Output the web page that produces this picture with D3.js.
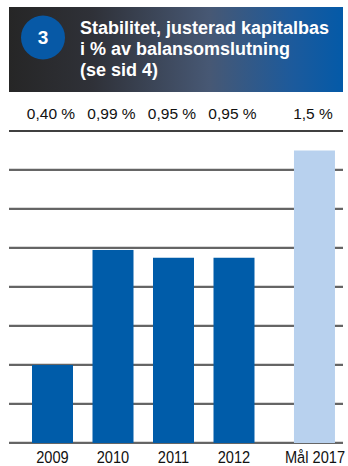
<!DOCTYPE html>
<html><head><meta charset="utf-8">
<script src="https://cdn.jsdelivr.net/npm/d3@7"></script>
<style>html,body{margin:0;padding:0;background:#fff;}svg{display:block;}</style>
</head><body>
<script>
const categories = ["2009", "2010", "2011", "2012", "Mål 2017"];
const values = [0.40, 0.99, 0.95, 0.95, 1.5];
const valueLabels = ["0,40 %", "0,99 %", "0,95 %", "0,95 %", "1,5 %"];
const isTarget = [false, false, false, false, true];
const gridTicks = [0, 0.2, 0.4, 0.6, 0.8, 1.0, 1.2, 1.4, 1.6];
const titleLines = ["Stabilitet, justerad kapitalbas", "i % av balansomslutning", "(se sid 4)"];
const chartNumber = "3";

const W = 348, H = 466;
const svg = d3.select("body").append("svg").attr("width", W).attr("height", H);
const font = "'Liberation Sans', Arial, sans-serif";

// header
const defs = svg.append("defs");
const grad = defs.append("linearGradient").attr("id", "hg").attr("x1", "0").attr("x2", "1").attr("y1", "0").attr("y2", "0");
grad.append("stop").attr("offset", "0").attr("stop-color", "#262626");
grad.append("stop").attr("offset", "0.25").attr("stop-color", "#2f3138");
grad.append("stop").attr("offset", "0.6").attr("stop-color", "#475874");
grad.append("stop").attr("offset", "0.85").attr("stop-color", "#1c5a9c");
grad.append("stop").attr("offset", "1").attr("stop-color", "#045aa8");
svg.append("rect").attr("x", 9).attr("y", 7).attr("width", 334).attr("height", 85).attr("fill", "url(#hg)");
svg.append("circle").attr("cx", 43).attr("cy", 37.5).attr("r", 22).attr("fill", "#0759a6");
svg.append("text").attr("x", 43).attr("y", 44).attr("text-anchor", "middle")
  .attr("font-family", font).attr("font-weight", "bold").attr("font-size", 19).attr("fill", "#fff").text(chartNumber);
svg.append("g").selectAll("text").data(titleLines).join("text")
  .attr("x", 80).attr("y", (d, i) => 34 + i * 21)
  .attr("font-family", font).attr("font-weight", "bold").attr("font-size", 18).attr("fill", "#fff")
  .text(d => d);

// scales
const y = d3.scaleLinear().domain([0, 1.6]).range([443, 131]);
const slot = d3.scaleLinear().domain([0, 1]).range([52.5, 113]);
const xCenter = i => slot(i + (isTarget[i] ? 0.33 : 0));
const barW = 41;

// gridlines
const grid = svg.append("g");
grid.selectAll("line.hl").data(gridTicks.slice(0, -1)).join("line").attr("class", "hl")
  .attr("x1", 9).attr("x2", 343).attr("y1", d => y(d) - 1.3).attr("y2", d => y(d) - 1.3)
  .attr("stroke", "#cfcfcf").attr("stroke-width", 1);
grid.selectAll("line.gl").data(gridTicks.slice(0, -1)).join("line").attr("class", "gl")
  .attr("x1", 9).attr("x2", 343).attr("y1", d => y(d)).attr("y2", d => y(d))
  .attr("stroke", "#333").attr("stroke-width", 1.5);
grid.append("line").attr("x1", 9).attr("x2", 343).attr("y1", y(1.6)).attr("y2", y(1.6))
  .attr("stroke", "#000").attr("stroke-width", 1.6);

// bars
svg.append("g").selectAll("rect").data(values).join("rect")
  .attr("x", (d, i) => xCenter(i) - barW / 2).attr("width", barW)
  .attr("y", d => y(d)).attr("height", d => y(0) - y(d))
  .attr("fill", (d, i) => isTarget[i] ? "#b8d1ee" : "#005ca9");

// value labels
svg.append("g").selectAll("text").data(valueLabels).join("text")
  .attr("x", (d, i) => xCenter(i) - 1.5).attr("y", 119).attr("text-anchor", "middle")
  .attr("font-family", font).attr("font-size", 15.5).attr("fill", "#111").text(d => d);

// category labels (condensed)
svg.append("g").selectAll("text").data(categories).join("text")
  .attr("transform", (d, i) => `translate(${xCenter(i) + (isTarget[i] ? 0.5 : 0)},462.5) scale(0.86,1)`)
  .attr("text-anchor", "middle")
  .attr("font-family", font).attr("font-size", 17).attr("fill", "#111").text(d => d);
</script>
</body></html>
